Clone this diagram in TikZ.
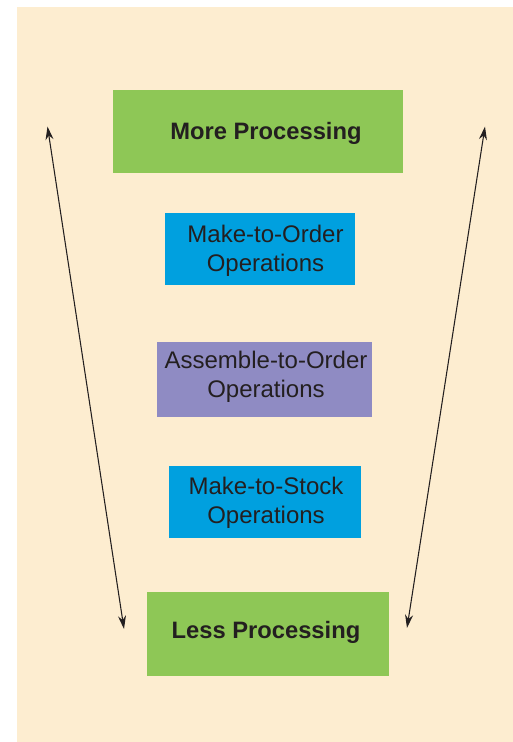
\documentclass[tikz,border=0pt]{standalone}
\usepackage{fontspec}
\setmainfont{Liberation Sans}
\usetikzlibrary{arrows.meta}
\definecolor{cream}{HTML}{FDEDD0}
\definecolor{boxgreen}{HTML}{8EC756}
\definecolor{boxblue}{HTML}{00A0DF}
\definecolor{boxpurple}{HTML}{8F8BC3}
\definecolor{ink}{HTML}{231F20}
\tikzset{
  box/.style={draw=none, inner sep=0pt, anchor=north west},
  lbl/.style={text=ink, align=center, font=\fontsize{18}{21.5}\selectfont, inner sep=0pt},
  blbl/.style={lbl, font=\fontsize{17.8}{21.5}\selectfont\bfseries},
  dbl/.style={ink, line width=0.8pt, {Stealth[length=10pt,width=6pt]}-{Stealth[length=10pt,width=6pt]}}
}
\begin{document}
\begin{tikzpicture}[x=0.75pt,y=-0.75pt]
\useasboundingbox (0,0) rectangle (513,742);
\fill[cream] (17,7) rectangle (513,742);
% boxes
\node[box, fill=boxgreen, minimum width=290*0.75pt, minimum height=83*0.75pt] (more) at (113,90) {};
\node[box, fill=boxblue, minimum width=190*0.75pt, minimum height=72*0.75pt] (mto) at (165,213) {};
\node[box, fill=boxpurple, minimum width=215*0.75pt, minimum height=75*0.75pt] (ato) at (157,342) {};
\node[box, fill=boxblue, minimum width=192*0.75pt, minimum height=72*0.75pt] (mts) at (169,466) {};
\node[box, fill=boxgreen, minimum width=242*0.75pt, minimum height=84*0.75pt] (less) at (147,592) {};
% labels
\node[blbl] (moret) at (266,133) {More Processing};
\node[lbl] (mtot) at (265.5,251) {Make-to-Order\\Operations};
\node[lbl] (atot) at (266,377) {Assemble-to-Order\\Operations};
\node[lbl] (mtst) at (266,503) {Make-to-Stock\\Operations};
\node[blbl] (lesst) at (266,632) {Less Processing};
% arrows
\coordinate (lt) at (47.5,126.5);
\coordinate (lb) at (124,629);
\coordinate (rt) at (485,126.5);
\coordinate (rb) at (407,628);
\draw[dbl] (lt) -- (lb);
\draw[dbl] (rt) -- (rb);
\end{tikzpicture}
\end{document}
